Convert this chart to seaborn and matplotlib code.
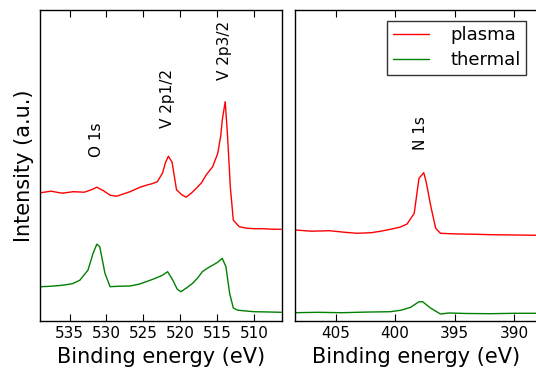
import numpy as np
import pandas as pd
import matplotlib
matplotlib.use("Agg")
import matplotlib.pyplot as plt
import seaborn as sns

# --- Data (binding energy in eV, intensity in arb. units) ---
v_ev_plasma = [538.9, 537.5, 536.0, 534.5, 533.0, 532.0, 531.3, 530.4, 529.5, 528.6, 527.6,
               526.8, 525.6, 524.6, 523.8, 523.1, 522.4, 522.0, 521.6, 521.1, 520.5, 519.8, 519.2,
               518.5, 517.8, 517.1, 516.5, 515.6, 514.9, 514.5, 514.3, 513.9, 513.6, 513.2, 512.8,
               512.0, 511.0, 510.0, 508.9, 507.5, 506.3]
v_plasma = [128.0, 129.5, 127.5, 129.0, 128.5, 131.0, 133.5, 130.0, 125.5, 124.5, 127.0,
            129.0, 133.0, 135.5, 137.0, 139.0, 147.5, 158.0, 164.5, 158.5, 131.0, 126.0, 123.5,
            127.5, 132.5, 138.0, 145.5, 154.0, 167.5, 185.0, 200.5, 219.0, 187.5, 133.5, 100.5,
            94.0, 92.5, 92.0, 92.0, 91.5, 91.4]

v_ev_thermal = [538.9, 537.4, 535.9, 534.6, 533.6, 532.5, 531.8, 531.3, 530.9, 530.2, 529.5,
                528.2, 526.8, 525.6, 524.6, 523.5, 522.4, 521.7, 521.0, 520.4, 519.9, 519.1,
                518.3, 517.6, 517.0, 516.2, 515.6, 514.9, 514.3, 513.8, 513.3, 512.8, 512.2,
                511.5, 510.0, 508.5, 506.3]
v_thermal = [34.0, 34.5, 35.5, 37.0, 40.5, 50.5, 67.5, 76.5, 74.0, 47.5, 34.0,
             34.5, 34.7, 36.5, 39.0, 42.0, 45.5, 49.0, 40.5, 31.5, 29.0, 33.0,
             37.5, 43.0, 49.0, 53.0, 55.5, 58.5, 62.4, 54.0, 27.5, 12.7, 10.5,
             10.0, 9.0, 8.8, 8.4]

n_ev_plasma = [408.4, 407.0, 405.5, 404.3, 403.2, 402.0, 401.2, 400.4, 399.6, 399.0, 398.4,
               398.0, 397.6, 397.4, 397.0, 396.6, 396.2, 395.0, 393.5, 392.0, 390.5, 388.0]
n_plasma = [90.7, 89.5, 90.0, 88.5, 87.4, 88.0, 89.5, 91.4, 93.5, 96.7, 107.4,
            142.4, 148.0, 139.0, 114.0, 92.4, 87.4, 86.8, 86.5, 86.0, 85.8, 85.4]

n_ev_thermal = [408.4, 406.5, 404.5, 402.5, 400.4, 399.5, 398.7, 398.0, 397.7, 397.0, 396.2,
                395.5, 394.0, 392.0, 390.0, 388.0]
n_thermal = [8.0, 8.4, 8.0, 8.6, 9.0, 10.5, 13.4, 19.0, 19.0, 12.4, 6.7,
             7.7, 7.2, 7.0, 7.4, 7.4]

peak_labels_v = ["O 1s", "V 2p1/2", "V 2p3/2"]
peak_pos_v = [531.3, 521.7, 514.0]
peak_base_v = [163.7, 192.7, 240.7]
peak_labels_n = ["N 1s"]
peak_pos_n = [397.9]
peak_base_n = [170.7]

# --- Style ---
sns.set_style("white")
plt.rcParams['font.family'] = ['DejaVu Sans']
plt.rcParams['text.color'] = 'black'
plt.rcParams['axes.labelcolor'] = 'black'
plt.rcParams['xtick.color'] = 'black'
plt.rcParams['xtick.direction'] = 'in'
plt.rcParams['ytick.direction'] = 'in'

fig = plt.figure(figsize=(5.36, 3.68), dpi=100)
ax1 = fig.add_axes([40 / 536, 47.3 / 368, 242 / 536, 310.7 / 368])
ax2 = fig.add_axes([295 / 536, 47.3 / 368, 242 / 536, 310.7 / 368])

def spectrum(ev, inten, label):
    return pd.DataFrame({"ev": ev, "I": inten, "sample": label})

left = pd.concat([spectrum(v_ev_plasma, v_plasma, "plasma"),
                  spectrum(v_ev_thermal, v_thermal, "thermal")])
right = pd.concat([spectrum(n_ev_plasma, n_plasma, "plasma"),
                   spectrum(n_ev_thermal, n_thermal, "thermal")])
pal = {"plasma": "red", "thermal": "green"}

sns.lineplot(data=left, x="ev", y="I", hue="sample", palette=pal, ax=ax1,
             estimator=None, linewidth=1, legend=False)
sns.lineplot(data=right, x="ev", y="I", hue="sample", palette=pal, ax=ax2,
             estimator=None, linewidth=1)

ax1.set_xlim(539, 506.2)
ax2.set_xlim(408.4, 388.1)
for ax in (ax1, ax2):
    ax.set_ylim(0, 310.7)
    ax.set_yticks([])
    ax.set_ylabel("")
    ax.set_xlabel("Binding energy (eV)", fontsize=15, color='black')
    ax.tick_params(axis='x', labelsize=11, top=True, bottom=True, length=5,
                   width=0.8, color='black', labelcolor='black', pad=4)
    for s in ax.spines.values():
        s.set_color('black')
        s.set_linewidth(1)

ax1.set_xticks([535, 530, 525, 520, 515, 510])
ax2.set_xticks([405, 400, 395, 390])
ax1.set_ylabel("Intensity (a.u.)", fontsize=15, color='black')

for lab, x, y in zip(peak_labels_v, peak_pos_v, peak_base_v):
    ax1.text(x, y, lab, rotation=90, ha='center', va='bottom', fontsize=11, color='black')
for lab, x, y in zip(peak_labels_n, peak_pos_n, peak_base_n):
    ax2.text(x, y, lab, rotation=90, ha='center', va='bottom', fontsize=11, color='black')

leg = ax2.legend(loc='upper right', fontsize=13, frameon=True, fancybox=False,
                 handlelength=2.0, handletextpad=1.2, borderpad=0.3, labelspacing=0.4,
                 borderaxespad=0.6, bbox_to_anchor=(1.0, 1.0))
leg.get_frame().set_edgecolor('black')
leg.get_frame().set_linewidth(1)
for t in leg.get_texts():
    t.set_color('black')

fig.savefig("out.png", dpi=100)
